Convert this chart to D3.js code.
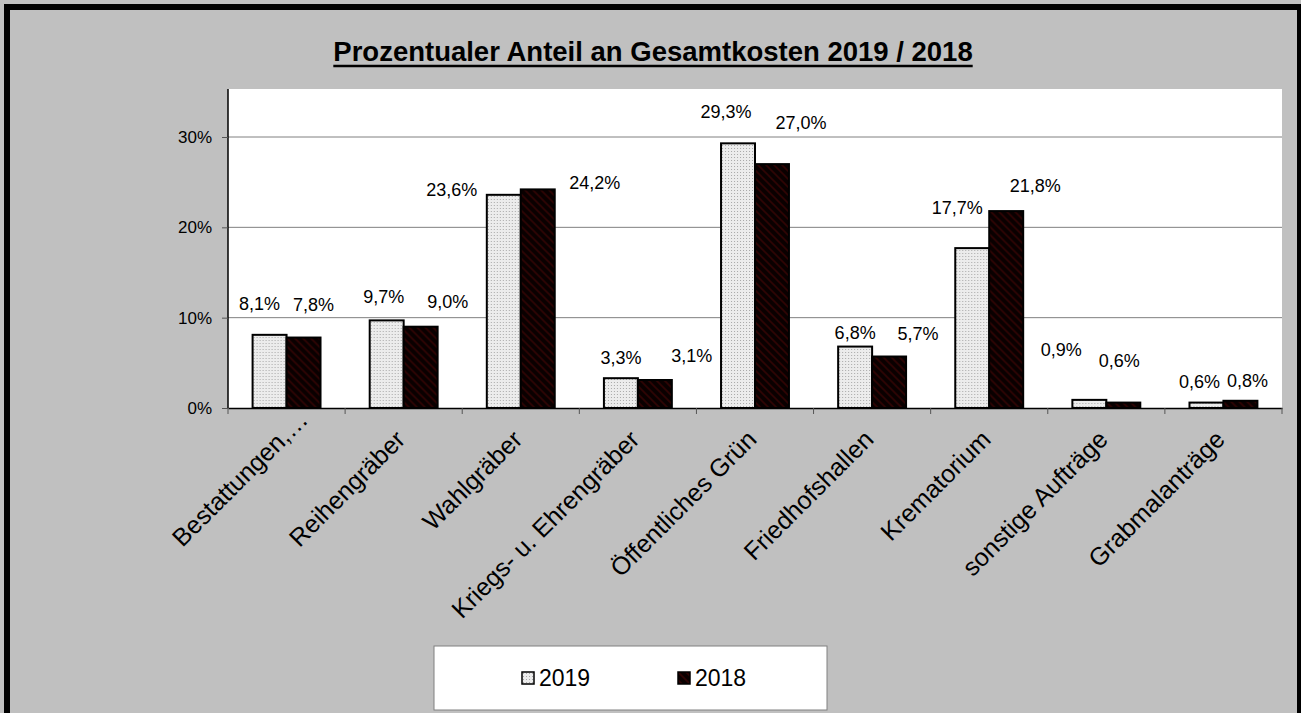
<!DOCTYPE html>
<html>
<head>
<meta charset="utf-8">
<script src="https://cdnjs.cloudflare.com/ajax/libs/d3/7.8.5/d3.min.js"></script>
<style>
  body { margin: 0; background: #c0c0c0; }
  svg { display: block; font-family: "Liberation Sans", Arial, sans-serif; }
</style>
</head>
<body>
<div id="chart"></div>
<script>
// chart data
const categories = ['Bestattungen,\u2026', 'Reihengräber', 'Wahlgräber', 'Kriegs- u. Ehrengräber',
    'Öffentliches Grün', 'Friedhofshallen', 'Krematorium', 'sonstige Aufträge', 'Grabmalanträge'];
const seriesNames = ['2019', '2018'];
const values2019 = [0.081, 0.097, 0.236, 0.033, 0.293, 0.068, 0.177, 0.009, 0.006];
const values2018 = [0.078, 0.090, 0.242, 0.031, 0.270, 0.057, 0.218, 0.006, 0.008];
const yTicks = [0, 0.1, 0.2, 0.3];

// manual label placement (px, relative to top centre of each bar), as in the original
const labelShift2019 = [[-10, -31], [-3, -23], [-52, -5], [0, -20], [-12, -31], [0, -14], [-15, -40], [-28, -50], [-7, -21]];
const labelShift2018 = [[10, -33], [27, -25], [57, -6], [37, -24], [29, -41], [29, -23], [29, -25], [-4, -42], [7, -20]];
// the truncated first category label sits further along its slant
const catLabelShift = [28, 0, 0, 0, 0, 0, 0, 0, 0];

const W = 1301, H = 713;
const plot = { left: 228, right: 1282, top: 89, bottom: 408 };

const svg = d3.select('#chart').append('svg')
    .attr('width', W)
    .attr('height', H);

// patterns for the two series
const defs = svg.append('defs');
const dots = defs.append('pattern')
    .attr('id', 'dots')
    .attr('patternUnits', 'userSpaceOnUse')
    .attr('width', 3).attr('height', 3);
dots.append('rect').attr('width', 3).attr('height', 3).attr('fill', '#ececec');
dots.append('rect').attr('x', 1).attr('y', 1).attr('width', 1).attr('height', 1).attr('fill', '#a8a8a8');

const hatch = defs.append('pattern')
    .attr('id', 'hatch')
    .attr('patternUnits', 'userSpaceOnUse')
    .attr('width', 8).attr('height', 8);
hatch.append('rect').attr('width', 8).attr('height', 8).attr('fill', '#0a0000');
hatch.append('path')
    .attr('d', 'M-2,-2 L10,10 M-2,6 L2,10 M6,-2 L10,2')
    .attr('stroke', '#300404')
    .attr('stroke-width', 1.6);

const fills = { '2019': 'url(#dots)', '2018': 'url(#hatch)' };

// background and frame
svg.append('rect')
    .attr('width', W).attr('height', H)
    .attr('fill', '#c0c0c0');
svg.append('rect')
    .attr('x', 7).attr('y', 7)
    .attr('width', 1293).attr('height', H + 20)
    .attr('fill', 'none')
    .attr('stroke', '#000')
    .attr('stroke-width', 6);

// title
const title = svg.append('text')
    .attr('x', 653)
    .attr('y', 61)
    .attr('text-anchor', 'middle')
    .style('font-size', '27.5px')
    .style('font-weight', 'bold')
    .text('Prozentualer Anteil an Gesamtkosten 2019 / 2018');
const tw = title.node().getComputedTextLength();
svg.append('line')
    .attr('x1', 653 - tw / 2).attr('x2', 653 + tw / 2)
    .attr('y1', 66).attr('y2', 66)
    .attr('stroke', '#000')
    .attr('stroke-width', 2.5);

// plot area
svg.append('rect')
    .attr('x', plot.left).attr('y', plot.top)
    .attr('width', plot.right - plot.left)
    .attr('height', plot.bottom - plot.top)
    .attr('fill', '#fff');

// scales
const x0 = d3.scaleBand()
    .domain(categories)
    .range([plot.left, plot.right])
    .paddingInner(0.42)
    .paddingOuter(0.21);

const x1 = d3.scaleBand()
    .domain(seriesNames)
    .range([0, x0.bandwidth()]);

const y = d3.scaleLinear()
    .domain([0, 0.35])
    .range([plot.bottom, plot.bottom - 0.35 * 903.3]);

// gridlines
svg.append('g')
    .selectAll('line')
    .data(yTicks.slice(1))
    .enter()
    .append('line')
    .attr('x1', plot.left).attr('x2', plot.right)
    .attr('y1', d => y(d)).attr('y2', d => y(d))
    .attr('stroke', '#808080')
    .attr('stroke-width', 1);

// y axis
const yAxis = svg.append('g')
    .attr('transform', 'translate(' + plot.left + ',0)')
    .call(d3.axisLeft(y).tickValues(yTicks).tickSize(6).tickPadding(10)
        .tickFormat(d => Math.round(d * 100) + '%'));
yAxis.select('.domain').attr('stroke', '#000').attr('stroke-width', 1.5)
    .attr('d', 'M0,' + plot.top + 'V' + plot.bottom);
yAxis.selectAll('.tick line').attr('stroke', '#555');
yAxis.selectAll('.tick text')
    .style('font-size', '17px')
    .style('font-family', '"Liberation Sans", Arial, sans-serif')
    .attr('fill', '#000');

// bars
const rows = categories.map((c, i) => ({
    cat: c,
    items: [
        { s: '2019', v: values2019[i], shift: labelShift2019[i] },
        { s: '2018', v: values2018[i], shift: labelShift2018[i] }
    ]
}));

const groups = svg.append('g')
    .selectAll('g')
    .data(rows)
    .enter()
    .append('g')
    .attr('transform', d => 'translate(' + x0(d.cat) + ',0)');

groups.selectAll('rect')
    .data(d => d.items)
    .enter()
    .append('rect')
    .attr('x', d => x1(d.s))
    .attr('y', d => y(d.v))
    .attr('width', x1.bandwidth())
    .attr('height', d => y(0) - y(d.v))
    .attr('fill', d => fills[d.s])
    .attr('stroke', '#000')
    .attr('stroke-width', 2);

const fmt = v => d3.format('.1f')(v * 100).replace('.', ',') + '%';
groups.selectAll('text')
    .data(d => d.items)
    .enter()
    .append('text')
    .attr('x', d => x1(d.s) + x1.bandwidth() / 2 + d.shift[0])
    .attr('y', d => y(d.v) + d.shift[1] + 6)
    .attr('text-anchor', 'middle')
    .style('font-size', '18px')
    .text(d => fmt(d.v));

// x axis: baseline and ticks between categories
const xAxis = svg.append('g')
    .attr('transform', 'translate(0,' + plot.bottom + ')')
    .call(d3.axisBottom(x0).tickSize(0).tickFormat(''));
xAxis.select('.domain').attr('stroke', '#000').attr('stroke-width', 1.5);

const step = x0.step();
const edges = categories.map(c => x0(c) - (step - x0.bandwidth()) / 2)
    .concat([plot.right]);
xAxis.selectAll('.edge')
    .data(edges)
    .enter()
    .append('line')
    .attr('class', 'edge')
    .attr('x1', d => d).attr('x2', d => d)
    .attr('y1', 0).attr('y2', 6)
    .attr('stroke', '#555');

svg.append('g')
    .selectAll('text')
    .data(categories)
    .enter()
    .append('text')
    .attr('transform', d => 'translate(' + (x0(d) + x0.bandwidth() / 2 + 3) + ',441) rotate(-45)')
    .attr('x', (d, i) => catLabelShift[i])
    .attr('text-anchor', 'end')
    .style('font-size', '25px')
    .text(d => d);

// legend
const legend = svg.append('g');
legend.append('rect')
    .attr('x', 434).attr('y', 646)
    .attr('width', 393).attr('height', 64)
    .attr('fill', '#fff')
    .attr('stroke', '#808080')
    .attr('stroke-width', 1);

const legendX = d3.scalePoint().domain(seriesNames).range([522, 678]);
const li = legend.selectAll('.item')
    .data(seriesNames)
    .enter()
    .append('g')
    .attr('class', 'item')
    .attr('transform', d => 'translate(' + legendX(d) + ',672)');
li.append('rect')
    .attr('width', 12).attr('height', 12)
    .attr('fill', d => fills[d])
    .attr('stroke', '#000')
    .attr('stroke-width', 1.5);
li.append('text')
    .attr('x', 17)
    .attr('y', 14)
    .style('font-size', '23px')
    .text(d => d);
</script>
</body>
</html>
